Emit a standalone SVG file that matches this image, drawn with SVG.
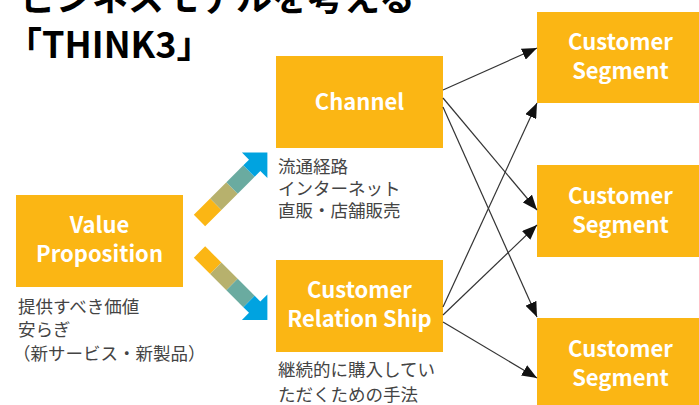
<svg xmlns="http://www.w3.org/2000/svg" width="699" height="405" viewBox="0 0 699 405">
<style>
.box{fill:#FBB614}
.bt{font-family:"Noto Sans CJK JP","Noto Sans",sans-serif;font-weight:bold;font-size:22px;fill:#fff;text-anchor:middle}
.note{font-family:"Noto Sans CJK JP",sans-serif;font-size:17.5px;fill:#444}
.title{font-family:"Noto Sans CJK JP",sans-serif;font-weight:bold;font-size:36px;fill:#000}
.con{stroke:#333;stroke-width:1.2;fill:none;marker-end:url(#ah)}
</style>
<defs>
<marker id="ah" markerUnits="userSpaceOnUse" markerWidth="16" markerHeight="12" refX="15" refY="6" orient="auto">
<path d="M0,0 L15,6 L0,12 Z" fill="#111"/>
</marker>
<g id="fat">
<rect x="0" y="-8" width="23" height="16" fill="#FBB614"/>
<rect x="23" y="-8" width="23" height="16" fill="#B7B16D"/>
<rect x="46" y="-8" width="24" height="16" fill="#6AABA0"/>
<polygon points="70,-8 78,-8 78,-18 96,0 78,18 78,8 70,8" fill="#00A3E0"/>
</g>
</defs>
<text class="title" x="20" y="11">ビジネスモデルを考える</text>
<text class="title" x="6" y="58">「THINK3」</text>
<g id="value">
<rect class="box" x="16" y="195" width="167" height="92"/>
<text class="bt" x="99.5" y="233">Value</text>
<text class="bt" x="99.5" y="262">Proposition</text>
</g>
<g id="channel">
<rect class="box" x="276" y="56" width="167" height="92"/>
<text class="bt" x="359.5" y="110">Channel</text>
</g>
<g id="crs">
<rect class="box" x="276" y="260" width="167" height="92"/>
<text class="bt" x="359.5" y="298">Customer</text>
<text class="bt" x="359.5" y="327">Relation Ship</text>
</g>
<g id="seg1">
<rect class="box" x="537" y="12" width="167" height="91"/>
<text class="bt" x="620.5" y="50">Customer</text>
<text class="bt" x="620.5" y="79">Segment</text>
</g>
<g id="seg2">
<rect class="box" x="537" y="165" width="167" height="92"/>
<text class="bt" x="620.5" y="204">Customer</text>
<text class="bt" x="620.5" y="233">Segment</text>
</g>
<g id="seg3">
<rect class="box" x="537" y="318" width="167" height="92"/>
<text class="bt" x="620.5" y="357">Customer</text>
<text class="bt" x="620.5" y="386">Segment</text>
</g>
<g id="fat-arrows">
<use href="#fat" transform="translate(199.5,220.5) rotate(-45)"/>
<use href="#fat" transform="translate(199.5,252) rotate(45)"/>
</g>
<g id="notes">
<text class="note" x="278"><tspan x="278" y="173">流通経路</tspan><tspan x="278" y="195">インターネット</tspan><tspan x="278" y="217">直販・店舗販売</tspan></text>
<text class="note" x="18"><tspan x="18" y="313">提供すべき価値</tspan><tspan x="18" y="336">安らぎ</tspan><tspan x="13" y="360">（新サービス・新製品）</tspan></text>
<text class="note" x="278"><tspan x="278" y="376">継続的に購入してい</tspan><tspan x="278" y="401">ただくための手法</tspan></text>
</g>
<g id="connectors">
<line class="con" x1="443" y1="90" x2="537" y2="48"/>
<line class="con" x1="443" y1="98" x2="537" y2="210"/>
<line class="con" x1="443" y1="107" x2="537" y2="317"/>
<line class="con" x1="443" y1="307" x2="537" y2="103"/>
<line class="con" x1="443" y1="315" x2="537" y2="225"/>
<line class="con" x1="443" y1="322" x2="537" y2="378"/>
</g>
</svg>
